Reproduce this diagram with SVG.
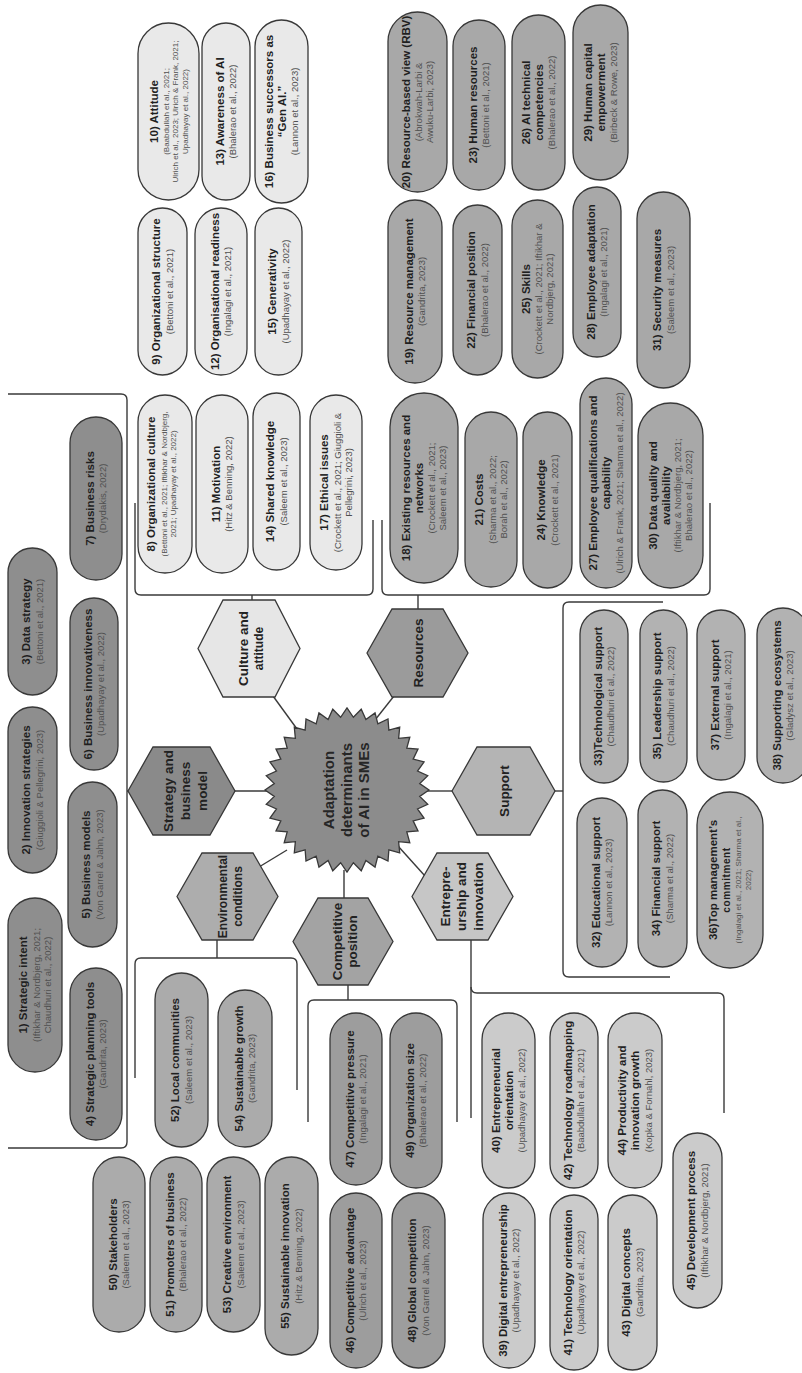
<svg xmlns="http://www.w3.org/2000/svg" width="802" height="1373" viewBox="0 0 802 1373">
<style>
text{font-family:"Liberation Sans",Arial,sans-serif;text-anchor:middle}
.t{font-size:11.5px;font-weight:bold;fill:#1f1f1f}
.t2{font-size:10px;font-weight:bold;fill:#1f1f1f;letter-spacing:0.6px}
.c{font-size:9.5px;fill:#505050}
.s{font-size:8px;fill:#505050}
.h{font-size:13.5px;font-weight:bold;fill:#222}
.h2{font-size:12px;font-weight:bold;fill:#222}
.st{font-size:15px;font-weight:bold;fill:#262626}
.p,.hx{stroke:#383838;stroke-width:1.3}
.g1{fill:#8e8e8e}.g2{fill:#e9e9e9}.g3{fill:#a8a8a8}.g4{fill:#b2b2b2}.g5{fill:#cbcbcb}.g6{fill:#9d9d9d}.g7{fill:#ababab}
#connectors path,#connectors line{fill:none;stroke:#3a3a3a;stroke-width:1.4}
</style>
<rect x="0" y="0" width="802" height="1373" fill="#ffffff"/>
<g id="connectors">
<path d="M8,394 H121 Q127,394 127,400 V1142 Q127,1148 121,1148 H8"/>
<path d="M127,791 H129"/>
<path d="M135,503 V589 Q135,595 141,595 H367 Q373,595 373,589 V520"/>
<path d="M252,595 V601"/>
<path d="M382,520 V589 Q382,595 388,595 H704 Q710,595 710,589 V503"/>
<path d="M418,595 V610"/>
<path d="M663,602 H569 Q563,602 563,608 V971 Q563,977 569,977 H670"/>
<path d="M554,791 H563"/>
<path d="M135,1078 V964 Q135,958 141,958 H291 Q297,958 297,964 V1090"/>
<path d="M217,939 V958"/>
<path d="M308,1122 V1006 Q308,1000 314,1000 H451 Q457,1000 457,1006 V1122"/>
<path d="M348,984 V1000"/>
<path d="M471,939 V1118"/>
<path d="M471,987 Q471,993 477,993 H718 Q724,993 724,999 V1113"/>
<line x1="234" y1="791" x2="268" y2="791"/>
<line x1="273" y1="696" x2="297" y2="729"/>
<line x1="394" y1="696" x2="375" y2="720"/>
<line x1="426" y1="791" x2="453" y2="791"/>
<line x1="398" y1="846" x2="425" y2="876"/>
<line x1="344" y1="870" x2="344" y2="899"/>
<line x1="287" y1="850" x2="259" y2="867"/>
</g>

<g id="center">
<polygon class="hx" fill="#8c8c8c" transform="translate(347,790)" points="82,0 72.72,6.37 80.75,14.24 70.51,18.89 77.06,28.04 66.16,30.85 71.01,41 59.8,41.87 62.81,52.71 51.62,51.62 52.71,62.81 41.87,59.8 41,71.01 30.85,66.16 28.04,77.06 18.89,70.51 14.24,80.75 6.37,72.72 0,82 -6.37,72.72 -14.24,80.75 -18.89,70.51 -28.04,77.06 -30.85,66.16 -41,71.01 -41.87,59.8 -52.71,62.81 -51.62,51.62 -62.81,52.71 -59.8,41.87 -71.01,41 -66.16,30.85 -77.06,28.04 -70.51,18.89 -80.75,14.24 -72.72,6.37 -82,0 -72.72,-6.37 -80.75,-14.24 -70.51,-18.89 -77.06,-28.04 -66.16,-30.85 -71.01,-41 -59.8,-41.87 -62.81,-52.71 -51.62,-51.62 -52.71,-62.81 -41.87,-59.8 -41,-71.01 -30.85,-66.16 -28.04,-77.06 -18.89,-70.51 -14.24,-80.75 -6.37,-72.72 0,-82 6.37,-72.72 14.24,-80.75 18.89,-70.51 28.04,-77.06 30.85,-66.16 41,-71.01 41.87,-59.8 52.71,-62.81 51.62,-51.62 62.81,-52.71 59.8,-41.87 71.01,-41 66.16,-30.85 77.06,-28.04 70.51,-18.89 80.75,-14.24 72.72,-6.37"/>
<text transform="translate(347,790) rotate(-90)"><tspan class="st" x="0" y="-13">Adaptation</tspan><tspan class="st" x="0" y="4.5">determinants</tspan><tspan class="st" x="0" y="22">of AI in SMEs</tspan></text>
</g>

<g id="hex-strategy">
<polygon class="hx" fill="#8a8a8a" points="128,791 153,747 210,747 235,791 210,835 153,835"/>
<text transform="translate(181.5,791) rotate(-90)"><tspan class="h" x="0" y="-9">Strategy and</tspan><tspan class="h" x="0" y="8">business</tspan><tspan class="h" x="0" y="25">model</tspan></text>
</g>
<g id="hex-culture">
<polygon class="hx" fill="#e6e6e6" points="198,648.5 223,600 275,600 300,648.5 275,697 223,697"/>
<text transform="translate(249,648.5) rotate(-90)"><tspan class="h" x="0" y="-1">Culture and</tspan><tspan class="h2" x="0" y="14">attitude</tspan></text>
</g>
<g id="hex-resources">
<polygon class="hx" fill="#9b9b9b" points="367,653 392,609 443,609 468,653 443,697 392,697"/>
<text transform="translate(417.5,653) rotate(-90)"><tspan class="h" x="0" y="5">Resources</tspan></text>
</g>
<g id="hex-support">
<polygon class="hx" fill="#b4b4b4" points="452,791 477,747 530,747 555,791 530,835 477,835"/>
<text transform="translate(503.5,791) rotate(-90)"><tspan class="h" x="0" y="5">Support</tspan></text>
</g>
<g id="hex-entrepreneurship">
<polygon class="hx" fill="#c6c6c6" points="412,896.5 437,853 488,853 513,896.5 488,940 437,940"/>
<text transform="translate(462.5,896.5) rotate(-90)"><tspan class="h" x="0" y="-13">Entrepre-</tspan><tspan class="h" x="0" y="3.5">urship and</tspan><tspan class="h" x="0" y="20">innovation</tspan></text>
</g>
<g id="hex-competitive">
<polygon class="hx" fill="#a3a3a3" points="293,941.5 318,898 368,898 393,941.5 368,985 318,985"/>
<text transform="translate(343,941.5) rotate(-90)"><tspan class="h" x="0" y="-1">Competitive</tspan><tspan class="h" x="0" y="14">position</tspan></text>
</g>
<g id="hex-environmental">
<polygon class="hx" fill="#adadad" points="177,896.5 202,853 253,853 278,896.5 253,940 202,940"/>
<text transform="translate(227.5,896.5) rotate(-90)"><tspan class="h2" x="0" y="-1">Environmental</tspan><tspan class="h2" x="0" y="14">conditions</tspan></text>
</g>

<g id="n1"><rect class="p g1" x="8" y="898" width="54" height="174" rx="27"/><text transform="translate(35,985) rotate(-90)"><tspan class="t" x="0" y="-8">1) Strategic intent</tspan><tspan class="c" x="0" y="4.5">(Iftikhar &amp; Nordbjerg, 2021;</tspan><tspan class="c" x="0" y="15.5">Chaudhuri et al., 2022)</tspan></text></g>
<g id="n2"><rect class="p g1" x="8" y="707" width="49" height="166" rx="24.5"/><text transform="translate(32.5,790) rotate(-90)"><tspan class="t" x="0" y="-2.5">2) Innovation strategies</tspan><tspan class="c" x="0" y="10">(Giuggioli &amp; Pellegrini, 2023)</tspan></text></g>
<g id="n3"><rect class="p g1" x="8" y="548" width="49" height="147" rx="24.5"/><text transform="translate(32.5,621.5) rotate(-90)"><tspan class="t" x="0" y="-2.5">3) Data strategy</tspan><tspan class="c" x="0" y="10">(Bettoni et al., 2021)</tspan></text></g>
<g id="n4"><rect class="p g1" x="70" y="968" width="52" height="172" rx="26"/><text transform="translate(96,1054) rotate(-90)"><tspan class="t" x="0" y="-2.5">4) Strategic planning tools</tspan><tspan class="c" x="0" y="10">(Gandrita, 2023)</tspan></text></g>
<g id="n5"><rect class="p g1" x="68" y="782" width="49" height="165" rx="24.5"/><text transform="translate(92.5,864.5) rotate(-90)"><tspan class="t" x="0" y="-2.5">5) Business models</tspan><tspan class="c" x="0" y="10">(Von Garrel &amp; Jahn, 2023)</tspan></text></g>
<g id="n6"><rect class="p g1" x="70" y="598" width="48" height="172" rx="24"/><text transform="translate(94,684) rotate(-90)"><tspan class="t" x="0" y="-2.5">6) Business innovativeness</tspan><tspan class="c" x="0" y="10">(Upadhayay et al., 2022)</tspan></text></g>
<g id="n7"><rect class="p g1" x="70" y="417" width="52" height="163" rx="26"/><text transform="translate(96,498.5) rotate(-90)"><tspan class="t" x="0" y="-2.5">7) Business risks</tspan><tspan class="c" x="0" y="10">(Drydakis, 2022)</tspan></text></g>

<g id="n8"><rect class="p g2" x="138" y="395" width="54" height="178" rx="27"/><text transform="translate(165,484) rotate(-90)"><tspan class="t" x="0" y="-10">8) Organizational culture</tspan><tspan class="s" x="0" y="1.5">(Bettoni et al., 2021; Iftikhar &amp; Nordbjerg,</tspan><tspan class="s" x="0" y="11">2021; Upadhayay et al., 2022)</tspan></text></g>
<g id="n9"><rect class="p g2" x="138" y="208" width="49" height="167" rx="24.5"/><text transform="translate(162.5,291.5) rotate(-90)"><tspan class="t" x="0" y="-2.5">9) Organizational structure</tspan><tspan class="c" x="0" y="10">(Bettoni et al., 2021)</tspan></text></g>
<g id="n10"><rect class="p g2" x="138" y="23" width="61" height="177" rx="30.5"/><text transform="translate(168.5,111.5) rotate(-90)"><tspan class="t" x="0" y="-11">10) Attitude</tspan><tspan class="s" x="0" y="0">(Baabdullah et al., 2021;</tspan><tspan class="s" x="0" y="9.5">Ulrich et al., 2023; Ulrich &amp; Frank, 2021;</tspan><tspan class="s" x="0" y="19">Upadhayay et al., 2022)</tspan></text></g>
<g id="n11"><rect class="p g2" x="196" y="395" width="52" height="178" rx="26"/><text transform="translate(222,484) rotate(-90)"><tspan class="t" x="0" y="-2.5">11) Motivation</tspan><tspan class="c" x="0" y="10">(Hitz &amp; Benning, 2022)</tspan></text></g>
<g id="n12"><rect class="p g2" x="195" y="208" width="52" height="167" rx="26"/><text transform="translate(221,291.5) rotate(-90)"><tspan class="t" x="0" y="-2.5">12) Organisational readiness</tspan><tspan class="c" x="0" y="10">(Ingalagi et al., 2021)</tspan></text></g>
<g id="n13"><rect class="p g2" x="202" y="23" width="48" height="177" rx="24"/><text transform="translate(226,111.5) rotate(-90)"><tspan class="t" x="0" y="-2.5">13) Awareness of AI</tspan><tspan class="c" x="0" y="10">(Bhalerao et al., 2022)</tspan></text></g>
<g id="n14"><rect class="p g2" x="253" y="393" width="47" height="177" rx="23.5"/><text transform="translate(276.5,481.5) rotate(-90)"><tspan class="t" x="0" y="-2.5">14) Shared knowledge</tspan><tspan class="c" x="0" y="10">(Saleem et al., 2023)</tspan></text></g>
<g id="n15"><rect class="p g2" x="255" y="208" width="47" height="167" rx="23.5"/><text transform="translate(278.5,291.5) rotate(-90)"><tspan class="t" x="0" y="-2.5">15) Generativity</tspan><tspan class="c" x="0" y="10">(Upadhayay et al., 2022)</tspan></text></g>
<g id="n16"><rect class="p g2" x="255" y="20" width="53" height="183" rx="26.5"/><text transform="translate(281.5,111.5) rotate(-90)"><tspan class="t" x="0" y="-9">16) Business successors as</tspan><tspan class="t" x="0" y="4">“Gen AI.”</tspan><tspan class="c" x="0" y="16.5">(Lannon et al., 2023)</tspan></text></g>
<g id="n17"><rect class="p g2" x="310" y="395" width="52" height="175" rx="26"/><text transform="translate(336,482.5) rotate(-90)"><tspan class="t" x="0" y="-8">17) Ethical issues</tspan><tspan class="c" x="0" y="4.5">(Crockett et al., 2021; Giuggioli &amp;</tspan><tspan class="c" x="0" y="15.5">Pellegrini, 2023)</tspan></text></g>

<g id="n18"><rect class="p g3" x="390" y="393" width="68" height="190" rx="34"/><text transform="translate(424,488) rotate(-90)"><tspan class="t" x="0" y="-14">18) Existing resources and</tspan><tspan class="t" x="0" y="-1">networks</tspan><tspan class="c" x="0" y="10.5">(Crockett et al., 2021;</tspan><tspan class="c" x="0" y="21.5">Saleem et al., 2023)</tspan></text></g>
<g id="n19"><rect class="p g3" x="388" y="200" width="54" height="183" rx="27"/><text transform="translate(415,291.5) rotate(-90)"><tspan class="t" x="0" y="-2.5">19) Resource management</tspan><tspan class="c" x="0" y="10">(Gandrita, 2023)</tspan></text></g>
<g id="n20"><rect class="p g3" x="388" y="12" width="59" height="180" rx="29.5"/><text transform="translate(417.5,102) rotate(-90)"><tspan class="t" x="0" y="-8">20) Resource-based view (RBV)</tspan><tspan class="c" x="0" y="4.5">(Abrokwah-Larbi &amp;</tspan><tspan class="c" x="0" y="15.5">Awuku-Larbi, 2023)</tspan></text></g>
<g id="n21"><rect class="p g3" x="465" y="412" width="52" height="175" rx="26"/><text transform="translate(491,499.5) rotate(-90)"><tspan class="t" x="0" y="-8">21) Costs</tspan><tspan class="c" x="0" y="4.5">(Sharma et al., 2022;</tspan><tspan class="c" x="0" y="15.5">Borah et al., 2022)</tspan></text></g>
<g id="n22"><rect class="p g3" x="453" y="205" width="49" height="170" rx="24.5"/><text transform="translate(477.5,290) rotate(-90)"><tspan class="t" x="0" y="-2.5">22) Financial position</tspan><tspan class="c" x="0" y="10">(Bhalerao et al., 2022)</tspan></text></g>
<g id="n23"><rect class="p g3" x="453" y="20" width="52" height="170" rx="26"/><text transform="translate(479,105) rotate(-90)"><tspan class="t" x="0" y="-2.5">23) Human resources</tspan><tspan class="c" x="0" y="10">(Bettoni et al., 2021)</tspan></text></g>
<g id="n24"><rect class="p g3" x="523" y="412" width="49" height="176" rx="24.5"/><text transform="translate(547.5,500) rotate(-90)"><tspan class="t" x="0" y="-2.5">24) Knowledge</tspan><tspan class="c" x="0" y="10">(Crockett et al., 2021)</tspan></text></g>
<g id="n25"><rect class="p g3" x="512" y="200" width="51" height="178" rx="25.5"/><text transform="translate(537.5,289) rotate(-90)"><tspan class="t" x="0" y="-8">25) Skills</tspan><tspan class="c" x="0" y="4.5">(Crockett et al., 2021; Iftikhar &amp;</tspan><tspan class="c" x="0" y="15.5">Nordbjerg, 2021)</tspan></text></g>
<g id="n26"><rect class="p g3" x="512" y="15" width="53" height="175" rx="26.5"/><text transform="translate(538.5,102.5) rotate(-90)"><tspan class="t" x="0" y="-9">26) AI technical</tspan><tspan class="t" x="0" y="4">competencies</tspan><tspan class="c" x="0" y="16.5">(Bhalerao et al., 2022)</tspan></text></g>
<g id="n27"><rect class="p g3" x="580" y="378" width="52" height="210" rx="26"/><text transform="translate(606,483) rotate(-90)"><tspan class="t" x="0" y="-9">27) Employee qualifications and</tspan><tspan class="t" x="0" y="4">capability</tspan><tspan class="c" x="0" y="16.5">(Ulrich &amp; Frank, 2021; Sharma et al., 2022)</tspan></text></g>
<g id="n28"><rect class="p g3" x="573" y="187" width="48" height="170" rx="24"/><text transform="translate(597,272) rotate(-90)"><tspan class="t" x="0" y="-2.5">28) Employee adaptation</tspan><tspan class="c" x="0" y="10">(Ingalagi et al., 2021)</tspan></text></g>
<g id="n29"><rect class="p g3" x="573" y="5" width="55" height="175" rx="27.5"/><text transform="translate(600.5,92.5) rotate(-90)"><tspan class="t" x="0" y="-9">29) Human capital</tspan><tspan class="t" x="0" y="4">empowerment</tspan><tspan class="c" x="0" y="16.5">(Birbeck &amp; Rowe, 2023)</tspan></text></g>
<g id="n30"><rect class="p g3" x="638" y="403" width="65" height="185" rx="32.5"/><text transform="translate(670.5,495.5) rotate(-90)"><tspan class="t" x="0" y="-14">30) Data quality and</tspan><tspan class="t" x="0" y="-1">availability</tspan><tspan class="c" x="0" y="10.5">(Iftikhar &amp; Nordbjerg, 2021;</tspan><tspan class="c" x="0" y="21.5">Bhalerao et al., 2022)</tspan></text></g>
<g id="n31"><rect class="p g3" x="637" y="192" width="53" height="196" rx="26.5"/><text transform="translate(663.5,290) rotate(-90)"><tspan class="t" x="0" y="-2.5">31) Security measures</tspan><tspan class="c" x="0" y="10">(Saleem et al., 2023)</tspan></text></g>

<g id="n32"><rect class="p g4" x="577" y="798" width="50" height="169" rx="25"/><text transform="translate(602,882.5) rotate(-90)"><tspan class="t" x="0" y="-2.5">32) Educational support</tspan><tspan class="c" x="0" y="10">(Lannon et al., 2023)</tspan></text></g>
<g id="n33"><rect class="p g4" x="580" y="610" width="48" height="173" rx="24"/><text transform="translate(604,696.5) rotate(-90)"><tspan class="t" x="0" y="-2.5">33)Technological support</tspan><tspan class="c" x="0" y="10">(Chaudhuri et al., 2022)</tspan></text></g>
<g id="n34"><rect class="p g4" x="638" y="790" width="49" height="177" rx="24.5"/><text transform="translate(662.5,878.5) rotate(-90)"><tspan class="t" x="0" y="-2.5">34) Financial support</tspan><tspan class="c" x="0" y="10">(Sharma et al., 2022)</tspan></text></g>
<g id="n35"><rect class="p g4" x="640" y="610" width="47" height="172" rx="23.5"/><text transform="translate(663.5,696) rotate(-90)"><tspan class="t" x="0" y="-2.5">35) Leadership support</tspan><tspan class="c" x="0" y="10">(Chaudhuri et al., 2022)</tspan></text></g>
<g id="n36"><rect class="p g4" x="697" y="792" width="66" height="176" rx="33"/><text transform="translate(730,880) rotate(-90)"><tspan class="t" x="0" y="-13">36)Top management’s</tspan><tspan class="t2" x="0" y="0">commitment</tspan><tspan class="s" x="0" y="11">(Ingalagi et al., 2021; Sharma et al.,</tspan><tspan class="s" x="0" y="21">2022)</tspan></text></g>
<g id="n37"><rect class="p g4" x="697" y="610" width="48" height="170" rx="24"/><text transform="translate(721,695) rotate(-90)"><tspan class="t" x="0" y="-2.5">37) External support</tspan><tspan class="c" x="0" y="10">(Ingalagi et al., 2021)</tspan></text></g>
<g id="n38"><rect class="p g4" x="757" y="608" width="52" height="175" rx="26"/><text transform="translate(783,695.5) rotate(-90)"><tspan class="t" x="0" y="-2.5">38) Supporting ecosystems</tspan><tspan class="c" x="0" y="10">(Gladysz et al., 2023)</tspan></text></g>

<g id="n39"><rect class="p g5" x="483" y="1193" width="52" height="175" rx="26"/><text transform="translate(509,1280.5) rotate(-90)"><tspan class="t" x="0" y="-2.5">39) Digital entrepreneurship</tspan><tspan class="c" x="0" y="10">(Upadhayay et al., 2022)</tspan></text></g>
<g id="n40"><rect class="p g5" x="482" y="1013" width="53" height="175" rx="26.5"/><text transform="translate(508.5,1100.5) rotate(-90)"><tspan class="t" x="0" y="-9">40) Entrepreneurial</tspan><tspan class="t" x="0" y="4">orientation</tspan><tspan class="c" x="0" y="16.5">(Upadhayay et al., 2022)</tspan></text></g>
<g id="n41"><rect class="p g5" x="550" y="1195" width="48" height="175" rx="24"/><text transform="translate(574,1282.5) rotate(-90)"><tspan class="t" x="0" y="-2.5">41) Technology orientation</tspan><tspan class="c" x="0" y="10">(Upadhayay et al., 2022)</tspan></text></g>
<g id="n42"><rect class="p g5" x="550" y="1013" width="48" height="175" rx="24"/><text transform="translate(574,1100.5) rotate(-90)"><tspan class="t" x="0" y="-2.5">42) Technology roadmapping</tspan><tspan class="c" x="0" y="10">(Baabdullah et al., 2021)</tspan></text></g>
<g id="n43"><rect class="p g5" x="608" y="1195" width="49" height="175" rx="24.5"/><text transform="translate(632.5,1282.5) rotate(-90)"><tspan class="t" x="0" y="-2.5">43) Digital concepts</tspan><tspan class="c" x="0" y="10">(Gandrita, 2023)</tspan></text></g>
<g id="n44"><rect class="p g5" x="608" y="1013" width="54" height="175" rx="27"/><text transform="translate(635,1100.5) rotate(-90)"><tspan class="t" x="0" y="-9">44) Productivity and</tspan><tspan class="t" x="0" y="4">innovation growth</tspan><tspan class="c" x="0" y="16.5">(Kopka &amp; Fornahl, 2023)</tspan></text></g>
<g id="n45"><rect class="p g5" x="673" y="1133" width="49" height="175" rx="24.5"/><text transform="translate(697.5,1220.5) rotate(-90)"><tspan class="t" x="0" y="-2.5">45) Development process</tspan><tspan class="c" x="0" y="10">(Iftikhar &amp; Nordbjerg, 2021)</tspan></text></g>

<g id="n46"><rect class="p g6" x="330" y="1193" width="52" height="175" rx="26"/><text transform="translate(356,1280.5) rotate(-90)"><tspan class="t" x="0" y="-2.5">46) Competitive advantage</tspan><tspan class="c" x="0" y="10">(Ulrich et al., 2023)</tspan></text></g>
<g id="n47"><rect class="p g6" x="330" y="1013" width="52" height="172" rx="26"/><text transform="translate(356,1099) rotate(-90)"><tspan class="t" x="0" y="-2.5">47) Competitive pressure</tspan><tspan class="c" x="0" y="10">(Ingalagi et al., 2021)</tspan></text></g>
<g id="n48"><rect class="p g6" x="392" y="1193" width="53" height="175" rx="26.5"/><text transform="translate(418.5,1280.5) rotate(-90)"><tspan class="t" x="0" y="-2.5">48) Global competition</tspan><tspan class="c" x="0" y="10">(Von Garrel &amp; Jahn, 2023)</tspan></text></g>
<g id="n49"><rect class="p g6" x="390" y="1013" width="52" height="175" rx="26"/><text transform="translate(416,1100.5) rotate(-90)"><tspan class="t" x="0" y="-2.5">49) Organization size</tspan><tspan class="c" x="0" y="10">(Bhalerao et al., 2022)</tspan></text></g>

<g id="n50"><rect class="p g7" x="93" y="1157" width="52" height="175" rx="26"/><text transform="translate(119,1244.5) rotate(-90)"><tspan class="t" x="0" y="-2.5">50) Stakeholders</tspan><tspan class="c" x="0" y="10">(Saleem et al., 2023)</tspan></text></g>
<g id="n51"><rect class="p g7" x="150" y="1157" width="52" height="175" rx="26"/><text transform="translate(176,1244.5) rotate(-90)"><tspan class="t" x="0" y="-2.5">51) Promoters of business</tspan><tspan class="c" x="0" y="10">(Bhalerao et al., 2022)</tspan></text></g>
<g id="n52"><rect class="p g7" x="155" y="973" width="53" height="174" rx="26.5"/><text transform="translate(181.5,1060) rotate(-90)"><tspan class="t" x="0" y="-2.5">52) Local communities</tspan><tspan class="c" x="0" y="10">(Saleem et al., 2023)</tspan></text></g>
<g id="n53"><rect class="p g7" x="207" y="1157" width="53" height="175" rx="26.5"/><text transform="translate(233.5,1244.5) rotate(-90)"><tspan class="t" x="0" y="-2.5">53) Creative environment</tspan><tspan class="c" x="0" y="10">(Saleem et al., 2023)</tspan></text></g>
<g id="n54"><rect class="p g7" x="218" y="990" width="54" height="157" rx="27"/><text transform="translate(245,1068.5) rotate(-90)"><tspan class="t" x="0" y="-2.5">54) Sustainable growth</tspan><tspan class="c" x="0" y="10">(Gandrita, 2023)</tspan></text></g>
<g id="n55"><rect class="p g7" x="265" y="1157" width="53" height="198" rx="26.5"/><text transform="translate(291.5,1256) rotate(-90)"><tspan class="t" x="0" y="-2.5">55) Sustainable innovation</tspan><tspan class="c" x="0" y="10">(Hitz &amp; Benning, 2022)</tspan></text></g>
</svg>
